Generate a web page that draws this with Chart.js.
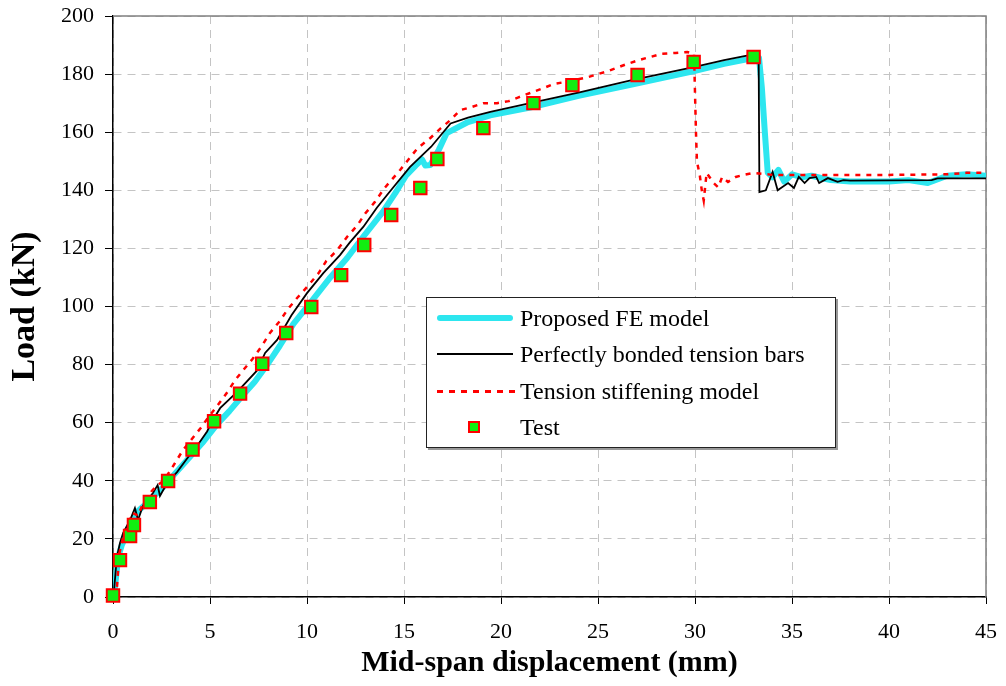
<!DOCTYPE html>
<html>
<head>
<meta charset="utf-8">
<script src="https://cdn.jsdelivr.net/npm/chart.js@4.4.1/dist/chart.umd.min.js"></script>
<style>
html,body{margin:0;padding:0;background:#fff;}
#wrap{position:relative;width:1006px;height:686px;overflow:hidden;}
#chart{position:absolute;left:0;top:0;}
#legend{position:absolute;left:426px;top:297px;width:410px;height:151px;border:1.5px solid #222;background:#fff;box-shadow:2px 2px 0 #999;font-family:"Liberation Serif","Times New Roman",serif;font-size:24px;color:#000;box-sizing:border-box;}
.row{position:absolute;left:0;height:30px;display:flex;align-items:center;white-space:nowrap;}
.sample{position:relative;width:78px;height:30px;margin-left:9px;margin-right:6px;flex:none;}
.sample span{position:absolute;display:block;}
</style>
</head>
<body>
<div id="wrap">
<canvas id="chart" width="1006" height="686"></canvas>
<div id="legend"></div>
</div>
<script>
// ---- Data ----
const seriesNames = ["Proposed FE model", "Perfectly bonded tension bars", "Tension stiffening model", "Test"];

const xTicks = [0, 5, 10, 15, 20, 25, 30, 35, 40, 45];
const yTicks = [0, 20, 40, 60, 80, 100, 120, 140, 160, 180, 200];

// Proposed FE model (cyan)
const feX = [0, 0.1, 0.27, 0.46, 0.88, 1.2, 1.75, 2.6, 3.0, 3.8, 4.6, 5.37, 6.0, 6.7, 7.3, 7.9, 8.6, 9.3, 10.2, 11.2, 12.07, 12.9, 13.9, 14.55, 15.1, 15.6, 15.93, 16.1, 16.36, 16.8, 17.2, 18.3, 19.45, 21.5, 24, 26.8, 29.9, 31.5, 33.0, 33.3, 33.45, 33.6, 33.75, 34.0, 34.3, 34.6, 35.0, 35.5, 36, 37, 38, 40, 41, 42, 43, 44, 45];
const feY = [0, 3.4, 13.8, 18, 24, 29, 32.4, 37.9, 41, 47, 53, 59.5, 64, 69.5, 74, 79.5, 86.5, 94, 101.5, 110, 116.7, 124, 132.5, 139, 145, 148.5, 150.6, 148.5, 148.7, 154, 159.7, 163.5, 165.8, 168.5, 172.5, 176.5, 181, 183.5, 185.5, 185.5, 175, 160, 146, 144.5, 147, 143, 145.5, 144.5, 145, 143.5, 143, 143, 143.5, 142.5, 145, 145.5, 145];

// Perfectly bonded tension bars (black)
const pbX = [0, 0.05, 0.2, 0.36, 0.52, 0.88, 1.13, 1.29, 1.55, 2.06, 2.3, 2.42, 2.79, 3.3, 3.8, 4.33, 4.85, 5.16, 5.52, 6.4, 7.43, 7.84, 8.46, 9.2, 10.0, 10.84, 11.7, 12.2, 12.9, 13.6, 14.2, 15.3, 16.4, 17.4, 18.3, 19.45, 21.5, 24.1, 26.8, 29.93, 31.5, 33.0, 33.28, 33.32, 33.65, 34.0, 34.26, 34.8, 35.1, 35.35, 35.65, 35.9, 36.25, 36.4, 36.85, 37.35, 37.65, 38, 42.2, 42.5, 45];
const pbY = [0, 2, 13.8, 18.6, 22, 26.5, 30.6, 26.5, 31.5, 35.8, 38.5, 34.8, 39.2, 43, 47.5, 52, 57, 61, 65, 70.6, 78, 84, 88.5, 97, 104.6, 111.5, 117.7, 122, 127.4, 134, 139, 148, 155, 163, 165, 167, 170, 173.8, 178, 182.4, 184.8, 186.8, 186.8, 139.4, 140, 146.3, 140, 142.5, 140.8, 144.6, 142.5, 144.2, 144.6, 142.5, 144.2, 142.9, 143.5, 143.3, 143.5, 144.1, 144.1];

// Tension stiffening model (red dashed)
const tsX = [0, 0.2, 0.25, 0.33, 0.5, 0.8, 1.0, 1.3, 1.5, 2.0, 2.3, 2.6, 3.0, 3.6, 4.5, 5.0, 5.4, 5.9, 6.3, 6.7, 7.2, 7.7, 8.1, 8.6, 9.0, 9.5, 10.0, 10.6, 11.0, 11.56, 12.07, 12.6, 13.0, 13.5, 14.0, 14.8, 15.7, 16.36, 16.9, 17.4, 17.9, 18.5, 19.1, 19.8, 20.4, 20.9, 21.5, 22.2, 22.7, 23.5, 24.5, 25.5, 26.5, 27.2, 28.3, 29.0, 29.6, 29.95, 30.05, 30.1, 30.25, 30.35, 30.45, 30.6, 30.96, 31.2, 31.4, 31.7, 32.1, 32.5, 33.0, 34, 36, 40, 43, 44, 45];
const tsY = [0, 3, 8, 15, 20, 25, 29, 28, 31.5, 36.5, 38.5, 40, 44, 50.5, 58, 62.6, 66, 70.6, 74.7, 78, 82, 86.7, 91, 95, 99, 103, 106.7, 111.5, 115.7, 119.4, 124, 128, 132, 136, 140.8, 147, 154.5, 158, 161.4, 164.2, 167.6, 168.7, 170, 170, 170.7, 172, 173.5, 175.2, 176.6, 177.5, 179, 181, 183.5, 185, 187, 187.3, 187.6, 187, 160, 150, 145, 140, 136.5, 146, 142.5, 141, 144.6, 142.9, 144.6, 145.3, 146, 145.3, 145.3, 145.3, 145.5, 146, 146];

// Test (markers)
const testX = [0, 0.36, 0.88, 1.08, 1.9, 2.84, 4.1, 5.21, 6.55, 7.69, 8.93, 10.22, 11.76, 12.95, 14.34, 15.84, 16.72, 19.09, 21.67, 23.68, 27.04, 29.93, 33.02];
const testY = [0.5, 12.7, 21, 24.8, 32.7, 39.9, 50.8, 60.5, 70, 80.3, 90.9, 99.8, 110.8, 121.2, 131.5, 140.8, 150.8, 161.4, 170, 176.2, 179.7, 184.2, 185.9];

const toPts = (xs, ys) => xs.map((x, i) => ({x: x, y: ys[i]}));

const CYAN = '#2DE6EF', BLACK = '#000000', RED = '#FF0000', GREEN = '#11EE11';
const serif = '"Liberation Serif", "Times New Roman", serif';

const frame = {
  id: 'frame',
  beforeDatasetsDraw(chart) {
    const {ctx, chartArea: a} = chart;
    ctx.save();
    ctx.strokeStyle = '#808080';
    ctx.lineWidth = 1.5;
    ctx.beginPath();
    ctx.moveTo(a.left, a.top);
    ctx.lineTo(a.right, a.top);
    ctx.lineTo(a.right, a.bottom);
    ctx.stroke();
    ctx.restore();
  }
};

const chart = new Chart(document.getElementById('chart'), {
  type: 'line',
  data: {
    datasets: [
      {label: seriesNames[0], data: toPts(feX, feY), borderColor: CYAN, borderWidth: 6, pointRadius: 0, tension: 0, order: 4, borderJoinStyle: 'round', borderCapStyle: 'round'},
      {label: seriesNames[1], data: toPts(pbX, pbY), borderColor: BLACK, borderWidth: 1.8, pointRadius: 0, tension: 0, order: 3},
      {label: seriesNames[2], data: toPts(tsX, tsY), borderColor: RED, borderWidth: 2.5, borderDash: [5, 6], pointRadius: 0, tension: 0, order: 2},
      {label: seriesNames[3], data: toPts(testX, testY), showLine: false, clip: false, pointStyle: 'rect', pointRadius: 8.8, pointBackgroundColor: GREEN, pointBorderColor: RED, pointBorderWidth: 2, order: 1}
    ]
  },
  options: {
    responsive: false,
    animation: false,
    events: [],
    layout: {padding: {top: 16, right: 20, left: 0, bottom: 0}},
    plugins: {legend: {display: false}, tooltip: {enabled: false}},
    scales: {
      x: {
        type: 'linear', min: 0, max: 45,
        afterBuildTicks: s => { s.ticks = xTicks.map(v => ({value: v})); },
        afterFit: s => { s.height = 89; s.paddingLeft = 0; s.paddingRight = 0; },
        ticks: {font: {family: serif, size: 22}, color: '#000', padding: 15},
        grid: {color: '#C4C4C4', lineWidth: 1, tickColor: '#000', tickLength: 7, tickBorderDash: []},
        border: {display: true, color: '#000', width: 1.5, dash: [8, 6]},
        title: {display: true, text: 'Mid-span displacement (mm)', font: {family: serif, size: 30, weight: 'bold'}, color: '#000', padding: {top: 0, bottom: 5}}
      },
      y: {
        min: 0, max: 200,
        afterBuildTicks: s => { s.ticks = yTicks.map(v => ({value: v})); },
        afterFit: s => { s.width = 113; s.paddingTop = 0; s.paddingBottom = 0; },
        ticks: {font: {family: serif, size: 22}, color: '#000', padding: 11},
        grid: {color: '#C4C4C4', lineWidth: 1, tickColor: '#000', tickLength: 8, tickBorderDash: []},
        border: {display: true, color: '#000', width: 1.5, dash: [8, 6]},
        title: {display: true, text: 'Load (kN)', font: {family: serif, size: 34, weight: 'bold'}, color: '#000', padding: {top: 5, bottom: 0}}
      }
    }
  },
  plugins: [frame]
});

// ---- HTML legend (real text), built from the series names ----
const legendRowsY = [5, 41, 78, 114];
const legend = document.getElementById('legend');
const samples = [
  '<span style="left:1px;top:12px;width:76px;height:6px;border-radius:3px;background:' + CYAN + '"></span>',
  '<span style="left:1px;top:14px;width:76px;height:2px;background:' + BLACK + '"></span>',
  '<span style="left:1px;top:14px;width:78px;height:2.5px;background:repeating-linear-gradient(90deg,' + RED + ' 0 6px,transparent 6px 12px)"></span>',
  '<span style="left:32px;top:9px;width:8px;height:8px;background:' + GREEN + ';border:2px solid ' + RED + '"></span>'
];
seriesNames.forEach((name, i) => {
  const row = document.createElement('div');
  row.className = 'row';
  row.style.top = legendRowsY[i] + 'px';
  row.innerHTML = '<div class="sample">' + samples[i] + '</div><span>' + name + '</span>';
  legend.appendChild(row);
});
</script>
</body>
</html>
